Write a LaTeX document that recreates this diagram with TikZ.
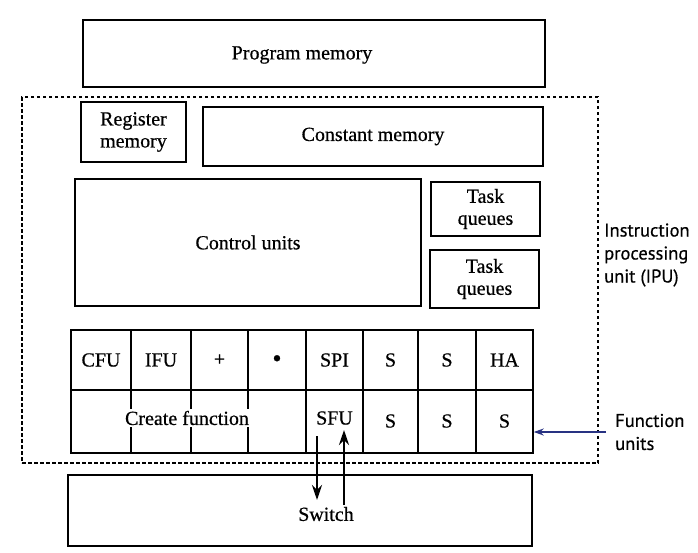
\documentclass[tikz,border=0pt]{standalone}
\usepackage{fontspec}
\setmainfont{Liberation Serif}[FakeBold=0.6]
\newfontfamily\labelfont{PT Sans}[FakeBold=0.5]
\usetikzlibrary{arrows.meta}
\definecolor{fublue}{RGB}{40,50,130}
\begin{document}
\begin{tikzpicture}[x=1pt,y=-1pt,
  box/.style={draw, line width=1.5pt, inner sep=0pt},
  txt/.style={font=\fontsize{20}{22}\selectfont, align=center, inner sep=0pt},
  side/.style={font=\labelfont\fontsize{18.5}{23}\selectfont, align=left, inner sep=0pt, anchor=west},
  ipuline/.style={line width=1.4pt, dash pattern=on 3.5pt off 2.5pt},
  gridline/.style={line width=1.5pt},
  bus/.style={line width=2.6pt, -{Stealth[length=15pt,width=10pt]}},
  fuarrow/.style={line width=1.6pt, fublue, -{Stealth[length=10pt,width=7pt]}},
]
\useasboundingbox (0,0) rectangle (698,552);

% program memory
\node[box, minimum width=462pt, minimum height=67pt] (pm) at (314,53.5) {};
\node[txt] (pmt) at (302,55) {Program memory};

% IPU dashed frame
\node[draw, ipuline, minimum width=576pt, minimum height=366pt] (ipu) at (310,280) {};

\node[box, txt, minimum width=105pt, minimum height=60pt] (reg) at (133.5,132) {Register\\memory};
\node[box, txt, minimum width=340pt, minimum height=59pt] (const) at (373,136.5) {Constant memory};
\node[box, txt, minimum width=346pt, minimum height=127pt] (ctrl) at (248,242.5) {Control units};
\node[box, txt, minimum width=109pt, minimum height=54pt] (tq1) at (485.5,209) {Task\\queues};
\node[box, txt, minimum width=109pt, minimum height=58pt] (tq2) at (484.5,279) {Task\\queues};

% function units grid
\node[box, minimum width=462pt, minimum height=123pt] (fu) at (302,391.5) {};
\draw[gridline] (fu.west |- 0,390) -- (fu.east |- 0,390);
\foreach \x in {131,191,248,306,363,418,476}
  \draw[gridline] (\x,330) -- (\x,453);

\node[txt] (cfu) at (101,360) {CFU};
\node[txt] (ifu) at (161,360) {IFU};
\node[txt] (plus) at (219.5,360) {+};
\node[txt, font=\fontsize{26}{26}\selectfont] (dot) at (277,361) {\textbullet};
\node[txt] (spi) at (334.5,360) {SPI};
\node[txt] (sa) at (390.5,360) {S};
\node[txt] (sb) at (447,360) {S};
\node[txt] (ha) at (504.5,360) {HA};

\node[txt, fill=white, inner sep=1.5pt] (cf) at (187,418) {Create function};
\node[txt] (sfu) at (334.5,418) {SFU};
\node[txt] (sc) at (390.5,421) {S};
\node[txt] (sd) at (447,421) {S};
\node[txt] (se) at (504.5,421) {S};

% switch
\node[box, minimum width=464pt, minimum height=71pt] (sw) at (300,510.5) {};
\node[txt] (swt) at (326,514) {Switch};

% buses between SFU and switch
\coordinate (d1) at (317,436);
\coordinate (d2) at (317,500);
\coordinate (u1) at (344,505);
\coordinate (u2) at (344,430);
\draw[bus] (d1) -- (d2);
\draw[bus] (u1) -- (u2);

% side labels
\node[side] (ipul) at (604,255) {Instruction\\processing\\unit (IPU)};
\node[side] (fut) at (615,432) {Function\\units};
\coordinate (fa) at (606,432);
\draw[fuarrow] (fa) -- (fu.east |- fa);
\end{tikzpicture}
\end{document}
